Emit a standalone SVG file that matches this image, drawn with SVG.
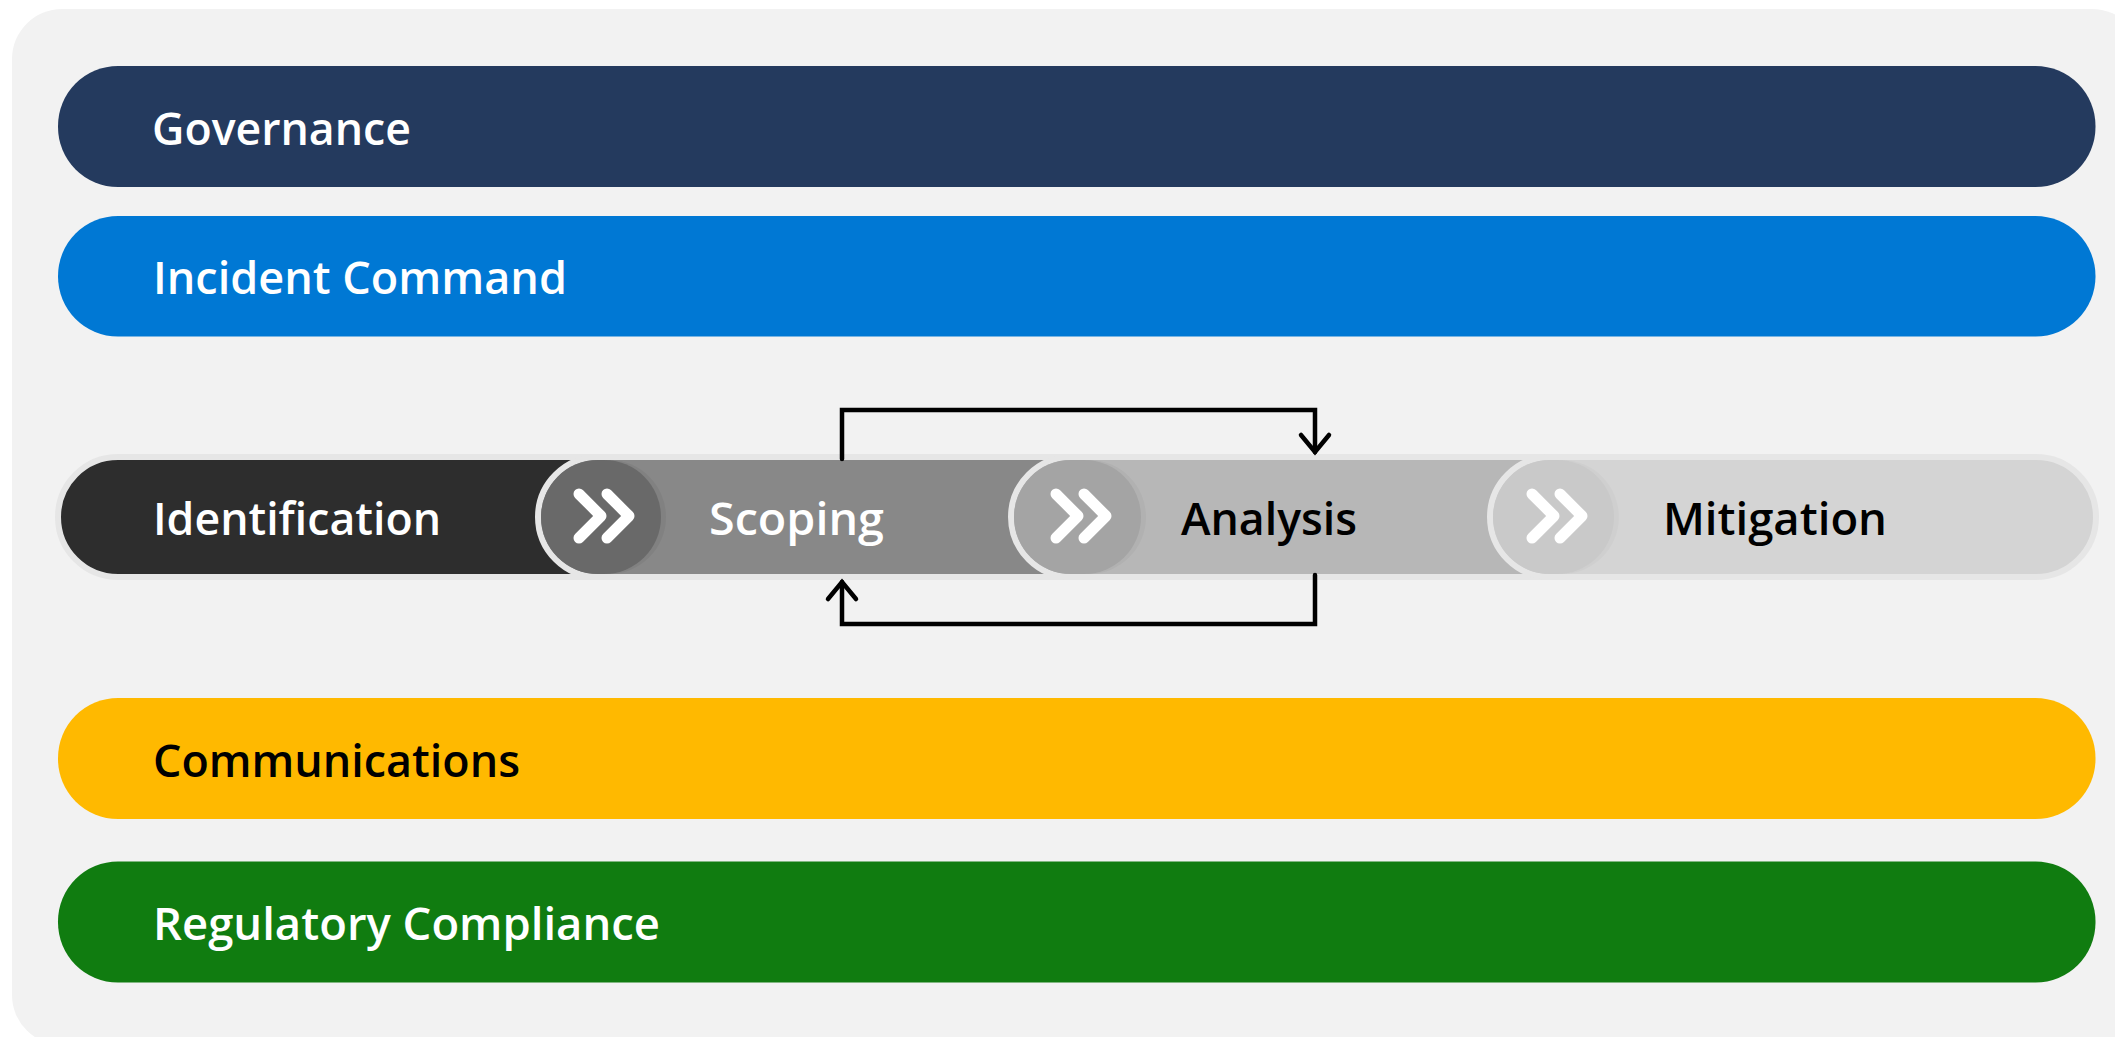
<svg xmlns="http://www.w3.org/2000/svg" width="2115" height="1037" viewBox="0 0 2115 1037">
<style>
text{font-family:"Open Sans","Noto Sans","Liberation Sans",sans-serif;font-weight:600;font-size:46px}
.w{fill:#fff}.k{fill:#000}
.ring{stroke:#e6e6e6;stroke-width:6}
.chev{fill:none;stroke:#fff;stroke-width:11;stroke-linecap:round;stroke-linejoin:round}
.conn{fill:none;stroke:#000;stroke-width:4.5;stroke-linecap:round;stroke-linejoin:miter}
</style>
<defs>
<marker id="arrow" markerUnits="userSpaceOnUse" viewBox="-22 -18 27 36" refX="0" refY="0" markerWidth="27" markerHeight="36" orient="auto">
<path d="M-17,-14 L0,0 L-17,14" fill="none" stroke="#000" stroke-width="4.5" stroke-linecap="round"/>
</marker>
<g id="chevrons"><path class="chev" d="M579,494 L601,516 L579,538"/><path class="chev" d="M607,494 L629,516 L607,538"/></g>
</defs>
<rect width="2115" height="1037" fill="#fff"/>
<rect id="background" x="12" y="9" width="2130" height="1036" rx="50" fill="#f2f2f2"/>
<g id="governance"><rect x="58" y="66" width="2037.5" height="121" rx="60" fill="#243a5e"/><text class="w" x="152" y="145" textLength="259" lengthAdjust="spacingAndGlyphs">Governance</text></g>
<g id="incident-command"><rect x="58" y="216" width="2037.5" height="120.5" rx="60" fill="#0078d4"/><text class="w" x="153" y="294" textLength="414" lengthAdjust="spacingAndGlyphs">Incident Command</text></g>
<g id="identification"><rect class="ring" x="58" y="457" width="680" height="120" rx="60" fill="#2d2d2d"/><text class="w" x="153" y="535" textLength="288" lengthAdjust="spacingAndGlyphs">Identification</text></g>
<g id="scoping"><rect class="ring" x="538" y="457" width="640" height="120" rx="60" fill="#888"/><rect x="541" y="460" width="125" height="114" rx="57" fill="#000" opacity=".05"/><rect x="541" y="460" width="120" height="114" rx="57" fill="#696969"/><use href="#chevrons"/><text class="w" x="709" y="535" textLength="175" lengthAdjust="spacingAndGlyphs">Scoping</text></g>
<g id="analysis"><rect class="ring" x="1011" y="457" width="640" height="120" rx="60" fill="#b7b7b7"/><rect x="1014" y="460" width="132" height="114" rx="57" fill="#000" opacity=".03"/><rect x="1014" y="460" width="127" height="114" rx="57" fill="#a4a4a4"/><use href="#chevrons" x="477"/><text class="k" x="1181" y="535" textLength="176" lengthAdjust="spacingAndGlyphs">Analysis</text></g>
<g id="mitigation"><rect class="ring" x="1490" y="457" width="606" height="120" rx="60" fill="#d4d4d4"/><rect x="1493" y="460" width="126" height="114" rx="57" fill="#000" opacity=".02"/><rect x="1493" y="460" width="121" height="114" rx="57" fill="#c9c9c9"/><use href="#chevrons" x="953"/><text class="k" x="1663" y="535" textLength="224" lengthAdjust="spacingAndGlyphs">Mitigation</text></g>
<g id="communications"><rect x="58" y="698" width="2037.5" height="121" rx="60" fill="#ffb900"/><text class="k" x="153" y="777" textLength="367" lengthAdjust="spacingAndGlyphs">Communications</text></g>
<g id="regulatory-compliance"><rect x="58" y="861.5" width="2037.5" height="121" rx="60" fill="#107c10"/><text class="w" x="153" y="940" textLength="507" lengthAdjust="spacingAndGlyphs">Regulatory Compliance</text></g>
<g id="connectors">
<path class="conn" d="M842,459 V410 H1315 V452" marker-end="url(#arrow)"/>
<path class="conn" d="M1315,575 V624 H842 V582" marker-end="url(#arrow)"/>
</g>
</svg>
